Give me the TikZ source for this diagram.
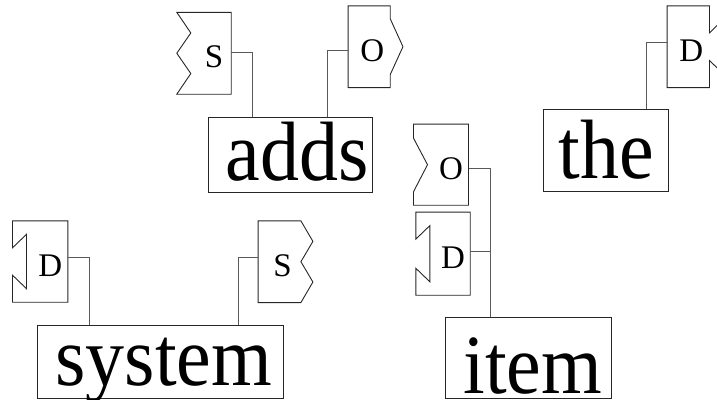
\documentclass[tikz,border=0pt]{standalone}
\usepackage{graphicx}
\usepackage{fontspec}
\setmainfont{Liberation Serif}
\usetikzlibrary{calc}

\newcommand\wordfont{\fontsize{78pt}{78pt}\selectfont}
\newcommand\tagfont{\fontsize{33pt}{33pt}\selectfont}
% word text in a box of fixed width, with a left pad; glyphs drawn a little tall
\newcommand\wordtext[3]{\makebox[#1][l]{\hspace*{#2}\scalebox{1}[1.08]{#3}}}

% connector outlines drawn around a named tag node
% S socket: zigzag cut into the left side
\newcommand\sockS[1]{\draw[outline] (#1.north east) -- (#1.south east)
  -- ([xshift=-14pt]#1.south west) -- ([yshift=-20.3pt]#1.west)
  -- ([xshift=-14pt]#1.west) -- ([yshift=20.3pt]#1.west)
  -- ([xshift=-14pt]#1.north west) -- cycle;}
% S plug: zigzag sticking out on the right side
\newcommand\plugS[1]{\draw[outline] (#1.north west) -- (#1.north east)
  -- ([xshift=12pt,yshift=20.3pt]#1.east) -- (#1.east)
  -- ([xshift=12pt,yshift=-20.3pt]#1.east) -- (#1.south east)
  -- (#1.south west) -- cycle;}
% O plug: chevron on the right side
\newcommand\plugO[1]{\draw[outline] (#1.north west) -- (#1.north east)
  -- ([yshift=-13pt]#1.north east) -- ([xshift=12.7pt]#1.east)
  -- ([yshift=13pt]#1.south east) -- (#1.south east)
  -- (#1.south west) -- cycle;}
% O socket: chevron cut into the left side
\newcommand\sockO[1]{\draw[outline] (#1.north east) -- (#1.south east)
  -- ([xshift=-14pt]#1.south west) -- ([xshift=-14pt,yshift=13.5pt]#1.south west)
  -- (#1.west) -- ([xshift=-14pt,yshift=-14pt]#1.north west)
  -- ([xshift=-14pt]#1.north west) -- cycle;}
% D socket: dovetail cut into the left side
\newcommand\sockD[1]{\draw[outline] (#1.north east) -- (#1.south east)
  -- ([xshift=-14pt]#1.south west) -- ([xshift=-14pt,yshift=27pt]#1.south west)
  -- ([yshift=13.5pt]#1.south west) -- ([yshift=-13.5pt]#1.north west)
  -- ([xshift=-14pt,yshift=-27pt]#1.north west)
  -- ([xshift=-14pt]#1.north west) -- cycle;}
% D plug: dovetail sticking out on the right side
\newcommand\plugD[1]{\draw[outline] (#1.north west) -- (#1.north east)
  -- ([yshift=-27pt]#1.north east) -- ([xshift=14pt,yshift=-13.5pt]#1.north east)
  -- ([xshift=14pt,yshift=13.5pt]#1.south east) -- ([yshift=27pt]#1.south east)
  -- (#1.south east) -- (#1.south west) -- cycle;}

\begin{document}
\begin{tikzpicture}[x=1pt,y=-1pt,
  outline/.style={draw=black!85, line width=0.9pt, line join=miter},
  link/.style={draw=black!65, line width=0.9pt},
  word/.style={outline, inner sep=0pt, anchor=north west, font=\wordfont},
  tag/.style={inner sep=0pt, font=\tagfont, text height=29pt, text depth=0pt},
]
\useasboundingbox (0,0) rectangle (717,399);
\clip (0,0) rectangle (717,399);

% words
\node[word, text height=63pt, text depth=12pt] (adds) at (208,117) {\wordtext{164pt}{17pt}{adds}};
\node[word, text height=69pt, text depth=13pt] (the) at (543,109) {\wordtext{125pt}{15pt}{the}};
\node[word, text height=60pt, text depth=13pt] (system) at (37,325) {\wordtext{246pt}{18pt}{system}};
\node[word, text height=76pt, text depth=5pt] (item) at (445,317) {\wordtext{166pt}{18pt}{item}};

% connector tags
\node[tag, minimum width=40pt, minimum height=81.5pt] (sS) at (211,53.25) {\hspace*{6pt}S};
\node[tag, minimum width=41.7pt, minimum height=81.3pt] (sO) at (369.2,46.7) {\hspace*{6pt}O};
\node[tag, minimum width=41pt, minimum height=81pt] (yD) at (47.2,261.5) {\hspace*{6pt}D};
\node[tag, minimum width=42.4pt, minimum height=81.3pt] (yS) at (279.5,261.7) {\hspace*{6pt}S};
\node[tag, minimum width=40.6pt, minimum height=80.7pt] (iO) at (448,164.7) {\hspace*{6pt}O};
\node[tag, minimum width=40pt, minimum height=82.7pt] (iD) at (450,253.7) {\hspace*{6pt}D};
\node[tag, minimum width=42pt, minimum height=81.3pt] (tD) at (688.3,46.7) {\hspace*{6pt}D};

\sockS{sS}
\plugO{sO}
\sockD{yD}
\plugS{yS}
\sockO{iO}
\sockD{iD}
\plugD{tD}

% links from tags down to their words
\draw[link] ([yshift=1.25pt]sS.east) -| ([xshift=44.7pt]adds.north west);
\draw[link] ([yshift=-3.3pt]sO.west) -| ([xshift=-45pt]adds.north east);
\draw[link] ([yshift=3.8pt]yD.east) -| ([xshift=52pt]system.north west);
\draw[link] ([yshift=4pt]yS.west) -| ([xshift=-45pt]system.north east);
\draw[link] ([yshift=-3.6pt]iO.east) -| ([xshift=45pt]item.north west);
\draw[link] ([yshift=2.7pt]iD.east) -| ([xshift=45pt]item.north west);
\draw[link] ([yshift=4pt]tD.west) -| ([xshift=-22pt]the.north east);
\end{tikzpicture}
\end{document}
